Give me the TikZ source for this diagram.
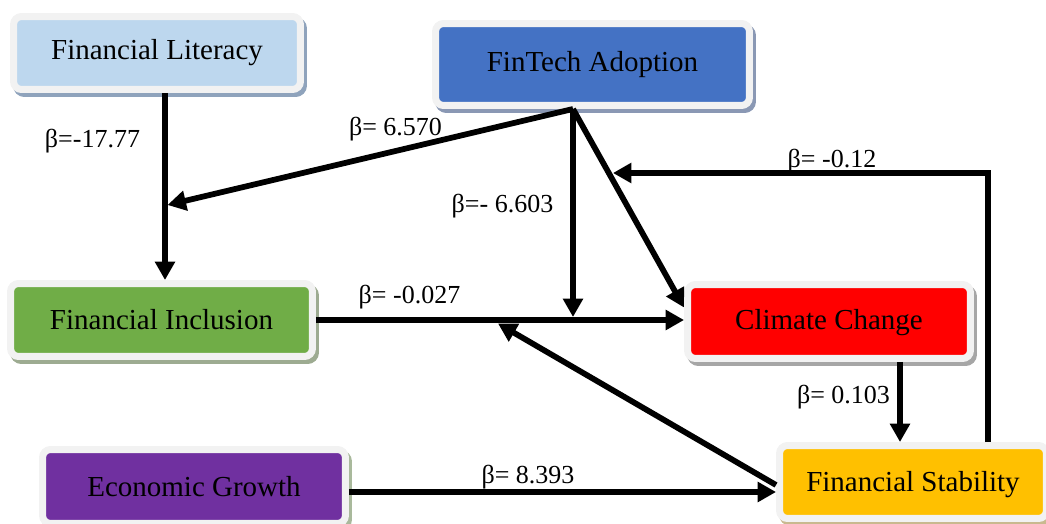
\documentclass[tikz,border=0pt]{standalone}
\usepackage{fontspec}
\setmainfont{Liberation Serif}
\usetikzlibrary{arrows.meta,shadows}
\definecolor{rimgray}{HTML}{F2F2F2}
\definecolor{litblue}{HTML}{BDD7EE}
\definecolor{finblue}{HTML}{4472C4}
\definecolor{incgreen}{HTML}{70AD47}
\definecolor{clired}{HTML}{FF0000}
\definecolor{ecopurple}{HTML}{7030A0}
\definecolor{stabyellow}{HTML}{FFC000}
\definecolor{litshadow}{HTML}{8FA3BC}
\definecolor{finshadow}{HTML}{8A98B4}
\definecolor{incshadow}{HTML}{9DAB91}
\definecolor{clishadow}{HTML}{A6A6A6}
\definecolor{ecoshadow}{HTML}{A9B99C}
\definecolor{stabshadow}{HTML}{C9B98F}
\begin{document}
\begin{tikzpicture}[x=0.02cm,y=-0.02cm,
	factor/.style 2 args={draw=rimgray,line width=0.14cm,fill=#1,rounded corners=0.16cm,
		font=\fontsize{16.5}{20}\selectfont,
		drop shadow={shadow xshift=0.06cm,shadow yshift=-0.08cm,opacity=1,fill=#2,draw=#2}},
	conn/.style={line width=0.115cm,-{Triangle[length=0.37cm,width=0.39cm]}},
	beta/.style={anchor=base,font=\fontsize{14.8}{18}\selectfont}]
		\useasboundingbox (0,0) rectangle (1046,524);
		
		\node[factor={litblue}{litshadow},minimum width=5.74cm,minimum height=1.46cm] (lit) at (157,53) {Financial Literacy};
		\node[factor={finblue}{finshadow},minimum width=6.28cm,minimum height=1.64cm] (fin) at (592.5,64.5) {FinTech Adoption};
		\node[factor={incgreen}{incshadow},minimum width=6.04cm,minimum height=1.46cm] (inc) at (161.5,320) {Financial Inclusion};
		\node[factor={clired}{clishadow},minimum width=5.66cm,minimum height=1.48cm,text depth=0.4ex] (cli) at (829,321.5) {Climate Change};
		\node[factor={ecopurple}{ecoshadow},minimum width=6.06cm,minimum height=1.48cm] (eco) at (194,486.5) {Economic Growth};
		\node[factor={stabyellow}{stabshadow},minimum width=5.34cm,minimum height=1.46cm,text height=3.2ex] (stab) at (913,482) {Financial Stability};
		
		\coordinate (colA) at (165,0);
		\coordinate (colB) at (573,0);
		\coordinate (colC) at (988,0);
		\coordinate (colD) at (900,0);
		\coordinate (rowE) at (0,492);
		\coordinate (litjoin) at (167.5,205);
		\coordinate (incjoin) at (573,317);
		\coordinate (incjoin2) at (498,323.5);
		\coordinate (fbjoin) at (613,173);
		
		\draw[conn] (lit.south -| colA) -- (inc.north -| colA);
		\draw[conn] (fin.south -| colB) -- (litjoin);
		\draw[conn] (fin.south -| colB) -- (incjoin);
		\draw[conn] (fin.south -| colB) -- ([yshift=0.28cm]cli.west);
		\draw[conn] (inc.east) -- (inc.east -| cli.west);
		\draw[conn] (stab.north -| colC) |- (fbjoin);
		\draw[conn] (cli.south -| colD) -- (stab.north -| colD);
		\draw[conn] (eco.east |- rowE) -- (stab.west |- rowE);
		\draw[conn] ([yshift=-0.06cm]stab.west) -- (incjoin2);
		
		\node[beta] (b1) at (92.5,147) {β=-17.77};
		\node[beta] (b2) at (395.5,135) {β= 6.570};
		\node[beta] (b3) at (502.5,212) {β=- 6.603};
		\node[beta] (b4) at (832,167) {β= -0.12};
		\node[beta] (b5) at (409.5,303) {β= -0.027};
		\node[beta] (b6) at (843.5,403) {β= 0.103};
		\node[beta] (b7) at (528,483) {β= 8.393};
		
		\end{tikzpicture}
\end{document}
